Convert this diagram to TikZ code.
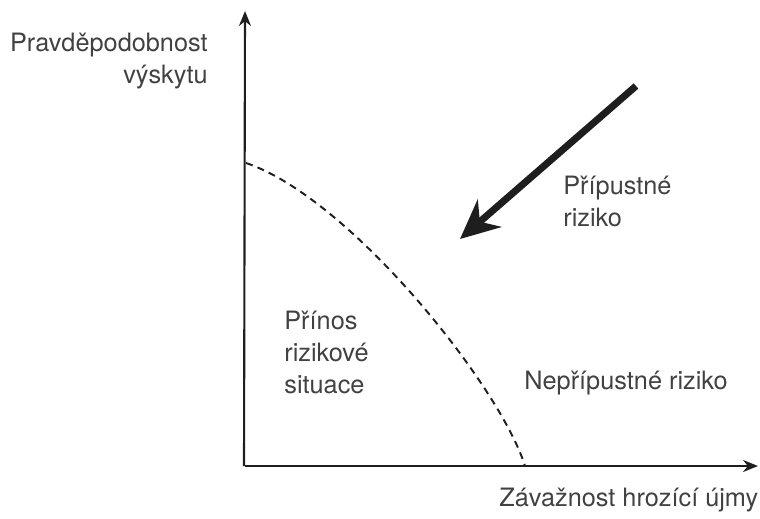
\documentclass[tikz,border=0pt]{standalone}
\usepackage{fontspec}
\setmainfont{TeX Gyre Heros}
\usepackage{xcolor}
\definecolor{axisgray}{RGB}{30, 30, 30}
\definecolor{textgray}{RGB}{65, 65, 65}
\usetikzlibrary{arrows.meta, calc}

\begin{document}
\begin{tikzpicture}[x=0.02cm, y=0.02cm, >=Stealth,
    axisline/.style={line width=1.2pt, axisgray, -{Stealth[length=0.3cm, width=0.24cm]}},
    riskText/.style={font=\fontsize{14.4}{18.2}\selectfont, text=textgray, inner sep=0pt}]
    \useasboundingbox (0,0) rectangle (760,518);

    % axes
    \coordinate (origin) at (245,52);
    \coordinate (ytip) at (245,507);
    \coordinate (xtip) at (758,52);
    \draw[axisline] ($(origin)+(-1,0)$) -- (ytip);
    \draw[axisline] (origin) -- (xtip);

    % hranice prijatelneho rizika
    \coordinate (curvetop) at (246,355);
    \coordinate (curvebot) at (525,52);
    \draw[line width=1.1pt, axisgray, dash pattern=on 4pt off 3pt]
        (curvetop) .. controls (350,320) and (500,132) .. (curvebot);

    % smer snizovani rizika
    \coordinate (arrstart) at (636,432);
    \coordinate (arrtip) at (460,279);
    \draw[line width=4pt, axisgray, -{Stealth[length=0.78cm, width=0.72cm]}] (arrstart) -- (arrtip);

    \node[riskText, anchor=east, align=right] (ylab) at (208,457) {Pravděpodobnost\\výskytu};
    \node[riskText, anchor=west] (xlab) at (499,18) {Závažnost hrozící újmy};
    \node[riskText, anchor=west, align=left] (prip) at (563,317) {Přípustné\\riziko};
    \node[riskText, anchor=west, align=left] (prinos) at (284,166) {Přínos\\rizikové\\situace};
    \node[riskText, anchor=west] (neprip) at (524,135) {Nepřípustné riziko};
\end{tikzpicture}
\end{document}
